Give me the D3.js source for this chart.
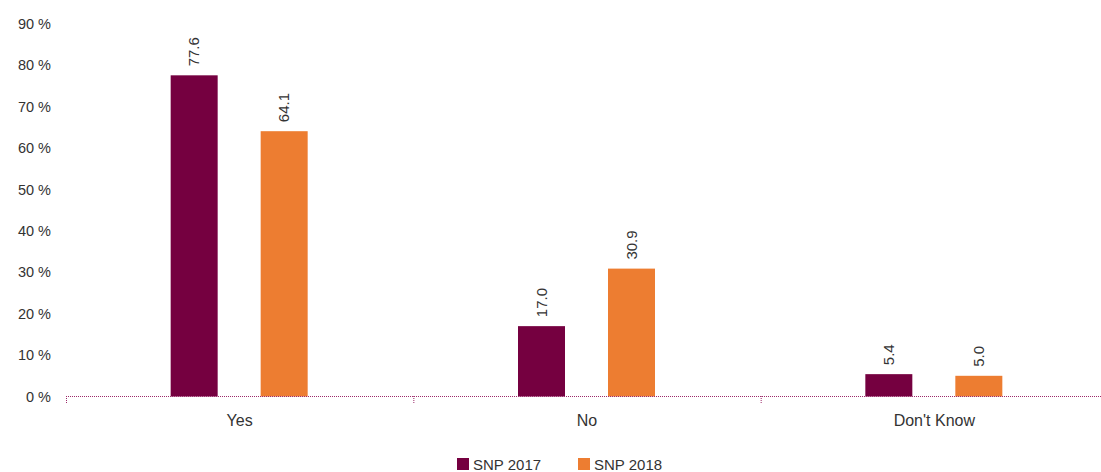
<!DOCTYPE html>
<html><head><meta charset="utf-8">
<script src="https://cdn.jsdelivr.net/npm/d3@7"></script>
<style>body{margin:0;background:#fff;}svg{display:block;font-family:"Liberation Sans",Arial,sans-serif;}</style>
</head><body>
<svg id="c" width="1101" height="472"></svg>
<script>
const categories = ["Yes", "No", "Don't Know"];
const seriesNames = ["SNP 2017", "SNP 2018"];
const snp2017 = [77.6, 17.0, 5.4];
const snp2018 = [64.1, 30.9, 5.0];
const yTicks = [0, 10, 20, 30, 40, 50, 60, 70, 80, 90];
const colors = ["#750040", "#ED7D31"];

const svg = d3.select("#c");
const x0 = d3.scaleBand().domain(categories).range([66, 1108]).padding(0);
const half = x0.bandwidth() / 2;
const x1 = d3.scaleBand().domain(seriesNames).range([half - 69, half + 68]).paddingInner(43 / 90).paddingOuter(0);
const y = d3.scaleLinear().domain([0, 90]).range([396.5, 24]);

// y labels
svg.append("g").selectAll("text").data(yTicks).join("text")
  .attr("x", 51).attr("y", d => y(d) + 5)
  .attr("text-anchor", "end").attr("font-size", 14.5).attr("fill", "#333")
  .text(d => d + " %");

const series = [snp2017, snp2018];
const groups = svg.append("g").selectAll("g").data(categories).join("g")
  .attr("transform", d => `translate(${x0(d)},0)`);

groups.each(function(cat, i) {
  const g = d3.select(this);
  seriesNames.forEach((s, j) => {
    const v = series[j][i];
    const bx = x1(s);
    const bw = x1.bandwidth();
    g.append("rect").attr("x", bx).attr("y", y(v)).attr("width", bw).attr("height", y(0) - y(v))
      .attr("fill", colors[j]);
    g.append("text")
      .attr("transform", `translate(${bx + bw / 2 + 5},${y(v) - 9}) rotate(-90)`)
      .attr("font-size", 15).attr("fill", "#333").attr("text-anchor", "start")
      .text(v.toFixed(1));
  });
});

// axis line
svg.append("line").attr("x1", 66).attr("x2", 1101).attr("y1", 396.5).attr("y2", 396.5)
  .attr("stroke", "#9c2a6a").attr("stroke-width", 1).attr("stroke-dasharray", "1,1");
svg.append("g").selectAll("line").data(categories).join("line")
  .attr("x1", d => x0(d) + 0.5).attr("x2", d => x0(d) + 0.5)
  .attr("y1", 396).attr("y2", 404)
  .attr("stroke", "#9c2a6a").attr("stroke-dasharray", "1,1");

svg.append("g").selectAll("text").data(categories).join("text")
  .attr("x", d => x0(d) + half).attr("y", 426)
  .attr("text-anchor", "middle").attr("font-size", 16).attr("fill", "#333")
  .text(d => d);

// legend
const leg = svg.append("g");
const lx = [457, 578];
seriesNames.forEach((s, j) => {
  leg.append("rect").attr("x", lx[j]).attr("y", 458).attr("width", 12).attr("height", 12).attr("fill", colors[j]);
  leg.append("text").attr("x", lx[j] + 16).attr("y", 470).attr("font-size", 15).attr("fill", "#333").text(s);
});
</script>
</body></html>
